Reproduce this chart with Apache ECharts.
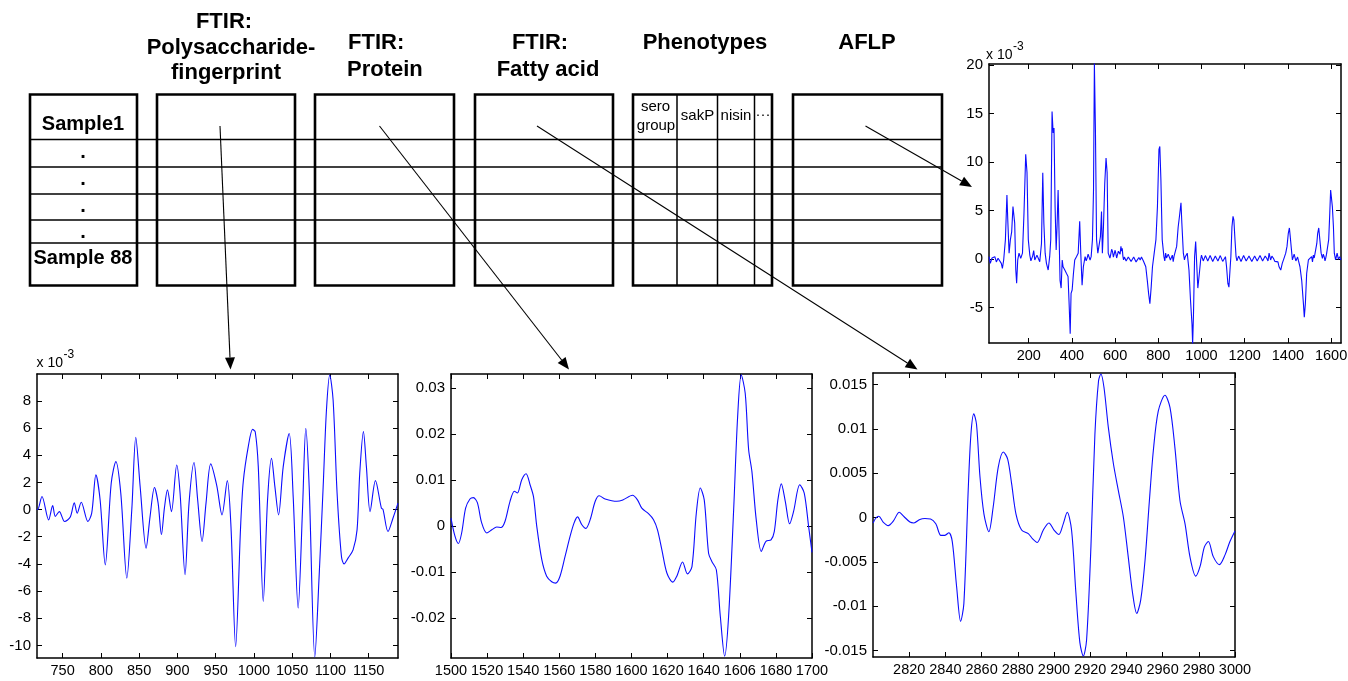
<!DOCTYPE html>
<html><head><meta charset="utf-8">
<script src="https://cdn.jsdelivr.net/npm/echarts@6/dist/echarts.min.js"></script>
<style>html,body{margin:0;padding:0;background:#fff}#c{width:1348px;height:681px}</style>
</head><body><div id="c"></div>
<script>
// ---------------- DATA ----------------
// AFLP spectrum (y in units of 1e-3)
const aflpData = [[16,0.24],[22,-0.45],[30,0.1],[35,-0.1],[43,0.24],[50,-0.3],[58,0.07],[66,0.24],[73,-0.45],[78,-0.97],[84,-0.1],[92,2],[99,6.6],[103,4],[109,0.6],[115,2],[121,2.8],[127,5.4],[130,5.5],[135,3.7],[140,-1.1],[144,-2.5],[149,-0.1],[155,0.6],[163,0.07],[171,0.6],[178,4.7],[186,10.8],[192,8.9],[198,2],[205,0.4],[210,-0.2],[214,-0.1],[218,0.3],[223,0.86],[228,-0.1],[233,-0.28],[238,0.4],[243,0.24],[251,-0.28],[259,1.6],[265,8.9],[270,3.7],[276,0.6],[282,-0.45],[290,-1.14],[297,0.24],[302,2],[308,15.2],[313,13],[317,13.5],[322,5.4],[327,0.93],[331,3.3],[336,7.1],[341,2],[345,-2.2],[350,-3.0],[355,-0.1],[359,-0.8],[367,-1.14],[375,-1.5],[382,-1.8],[387,-4.6],[392,-7.7],[396,-3.55],[401,-3.2],[407,-1.5],[413,-0.1],[421,0.24],[429,0.6],[436,3.9],[441,0.6],[447,-2.7],[453,-0.8],[461,0.24],[466,-0.2],[470,0.07],[475,0.5],[479,0.4],[484,-0.1],[489,0.24],[495,2],[500,7.1],[504,20.2],[509,13],[514,2],[520,0.6],[526,0.6],[532,2.3],[537,4.9],[541,0.6],[546,3.3],[552,7.8],[558,10.4],[563,8.9],[568,0.6],[572,0.76],[576,0.1],[579,0.4],[584,1.0],[588,0.76],[592,0.2],[596,0.24],[600,0.9],[603,0.6],[607,0.1],[611,0.24],[615,0.8],[619,0.93],[623,0.5],[627,1.3],[630,0.8],[633,1.1],[636,0.3],[639,-0.1],[643,0.2],[647,0.07],[651,-0.2],[656,-0.1],[661,0.2],[668,0.07],[674,-0.25],[681,-0.17],[686,0.2],[691,0.07],[697,-0.3],[704,-0.17],[710,0.15],[716,-0.1],[722,0.2],[727,0.07],[731,-0.2],[735,-0.28],[742,-0.8],[749,-2.2],[755,-3.55],[761,-4.6],[767,-2.9],[773,-0.8],[781,0.6],[789,2],[796,5.4],[803,11.3],[807,11.6],[812,8.2],[818,2],[826,0.24],[830,-0.2],[834,0.6],[838,0.1],[841,-0.1],[846,0.5],[851,0.4],[856,-0.1],[860,0.07],[865,0.4],[869,-0.28],[873,0.3],[877,0.24],[885,1.3],[892,3.3],[898,4.4],[905,5.8],[909,3.7],[916,0.6],[921,-0.1],[925,0.24],[930,0.3],[934,0.6],[942,-1.14],[949,-4.2],[956,-6.7],[959,-8.8],[963,-5.6],[968,0.24],[973,1.8],[977,-0.1],[983,-3.0],[990,-1.5],[996,-0.1],[1000,0.4],[1004,0.24],[1008,-0.2],[1013,-0.1],[1018,0.35],[1024,0.24],[1029,-0.2],[1034,-0.03],[1040,0.35],[1047,0.24],[1052,-0.25],[1058,-0.1],[1064,0.3],[1070,0.24],[1076,-0.2],[1082,-0.03],[1087,0.35],[1093,0.24],[1098,-0.25],[1104,-0.1],[1111,0.24],[1116,-0.8],[1122,-2.5],[1127,-2.9],[1132,-1.14],[1136,0.24],[1141,3.3],[1146,4.4],[1150,4.0],[1155,2],[1160,0.24],[1164,-0.2],[1167,-0.1],[1172,0.3],[1178,0.24],[1183,-0.25],[1189,-0.1],[1195,0.35],[1201,0.3],[1207,-0.2],[1214,-0.1],[1220,0.3],[1226,0.24],[1233,-0.25],[1240,-0.17],[1246,0.3],[1252,0.24],[1258,-0.2],[1265,-0.1],[1271,0.35],[1277,0.24],[1283,-0.2],[1289,-0.03],[1295,0.3],[1302,0.07],[1308,-0.2],[1313,0.6],[1320,-0.1],[1326,0.3],[1333,0.07],[1340,-0.25],[1348,-0.1],[1354,-0.3],[1359,-0.8],[1367,-1.14],[1374,-0.45],[1382,0.07],[1390,0.6],[1396,1.3],[1402,2.65],[1407,3.2],[1411,2.3],[1418,0.6],[1421,-0.1],[1425,0.07],[1429,0.5],[1433,0.4],[1437,-0.2],[1441,-0.1],[1445,0.2],[1449,-0.17],[1456,-0.8],[1464,-2.2],[1472,-4.6],[1476,-6.0],[1481,-4.6],[1487,-1.5],[1495,-0.1],[1503,-0.28],[1510,0.24],[1514,-0.3],[1518,0.4],[1522,0.1],[1526,0.6],[1534,1.6],[1538,2.65],[1543,3.2],[1548,2],[1554,0.6],[1560,0.07],[1564,0.5],[1568,0.24],[1572,-0.2],[1575,0.07],[1579,0.5],[1583,0.6],[1589,2],[1594,4.7],[1598,7.1],[1602,7.3],[1606,5.4],[1611,3.3],[1615,0.6],[1621,-0.1],[1628,0.6],[1634,-0.03],[1640,0.24],[1646,-0.1]];
const aflpXTicks = [200,400,600,800,1000,1200,1400,1600];
const aflpYTicks = [-5,0,5,10,15,20];

// FTIR polysaccharide fingerprint (y in units of 1e-3)
const polyData = [[716.5,0.05],[717.4,0],[723,0.96],[731.7,-0.76],[737,0.29],[740.4,-0.5],[745.7,-0.15],[752.6,-0.88],[760,-0.55],[765.2,0.5],[769,-0.27],[774.3,0.54],[783,-0.88],[788,-0.27],[793.5,2.55],[799,0.7],[805.7,-4.07],[813.5,1.94],[819.6,3.53],[826,1.2],[833.9,-5.05],[840.4,0],[845.6,5.32],[851.3,1.7],[859.1,-2.84],[864.3,-0.5],[870,1.62],[874.8,0.47],[879.1,-1.86],[883,0.1],[887,1.45],[892.2,-0.15],[899.1,3.28],[903.5,1.2],[910,-4.8],[915.2,0.47],[921.7,3.46],[926.5,0.7],[932.2,-2.35],[937.4,0.47],[943.5,3.36],[951.3,1.8],[958.3,-0.39],[965.2,2.13],[970,-1.25],[976.1,-10.1],[982.6,-1.25],[986.1,2.06],[992.6,4.63],[998.3,5.9],[1001.7,5.73],[1005.7,3.16],[1012.2,-6.76],[1017.8,0.7],[1023,3.77],[1027.4,1.69],[1032.2,-0.39],[1038.3,3.16],[1046.1,5.6],[1051.3,0.96],[1057.8,-7.25],[1063.5,0],[1067.8,5.98],[1072.2,1.69],[1079.6,-10.86],[1085.2,-4.93],[1090.5,1.69],[1094.8,7.33],[1099.1,9.9],[1103.5,8.06],[1108.7,1.2],[1114.4,-3.46],[1117.8,-4.0],[1123,-3.58],[1129.6,-2.97],[1134.8,-1.5],[1138.3,2.67],[1143.1,5.74],[1147,3.16],[1151.8,-0.15],[1158.8,2.13],[1166.6,0.1],[1168.7,0.02],[1175.2,-1.62],[1181.7,-0.64],[1188.3,0.47]];
const polyXTicks = [750,800,850,900,950,1000,1050,1100,1150];
const polyYTicks = [-10,-8,-6,-4,-2,0,2,4,6,8];

// FTIR protein region
const protData = [[1500,0.00174],[1502.2,-0.0022],[1504.1,-0.0038],[1505.9,-0.0015],[1508.1,0.0039],[1510.5,0.0059],[1512.4,0.0062],[1514.6,0.0051],[1517,0.0007],[1519.8,-0.0015],[1522.6,-0.0008],[1525.3,-0.0002],[1527.7,-0.0003],[1529.9,0.001],[1532.7,0.0054],[1535.1,0.0076],[1536.8,0.0072],[1539.2,0.0101],[1541.6,0.0114],[1543.8,0.009],[1545.7,0.0064],[1547.5,0],[1550.3,-0.0073],[1553,-0.0109],[1555.8,-0.0121],[1558,-0.0124],[1560.4,-0.0109],[1563.2,-0.0066],[1566,-0.0022],[1568.2,0.0007],[1570.1,0.002],[1572.5,0.0003],[1574.7,-0.0005],[1577.1,0.0014],[1579.9,0.0054],[1582.1,0.0066],[1585.4,0.0059],[1591.9,0.0054],[1595.2,0.0057],[1600.6,0.0067],[1603.3,0.0057],[1605.7,0.0039],[1609.4,0.0027],[1612.2,0.0014],[1614.4,-0.0008],[1616.8,-0.0051],[1619.6,-0.0102],[1622.9,-0.0122],[1625.1,-0.0109],[1628.3,-0.0078],[1631,-0.0104],[1633.5,-0.0088],[1635.9,0.0028],[1638.1,0.0083],[1640.3,0.0057],[1642.7,-0.0059],[1644.5,-0.0077],[1647,-0.0095],[1649.2,-0.0196],[1651.6,-0.0283],[1653.8,-0.0196],[1656.6,0.0036],[1658.8,0.0238],[1660.8,0.0329],[1663,0.0289],[1664.9,0.0166],[1666.7,0.0119],[1669.1,0.0014],[1671.9,-0.0055],[1674.5,-0.0033],[1677.3,-0.003],[1679.1,-0.0012],[1681.1,0.0057],[1683,0.0092],[1685.2,0.0054],[1687.6,0.0005],[1689.8,0.0032],[1693.2,0.009],[1695.7,0.0072],[1698.1,0],[1700,-0.0057]];
const protXTicks = [1500,1520,1540,1560,1580,1600,1620,1640,1660,1680,1700];
const protXLabels = ['1500','1520','1540','1560','1580','1600','1620','1640','1606','1680','1700'];
const protYTicks = [-0.02,-0.01,0,0.01,0.02,0.03];
const protYLabels = ['-0.02','-0.01','0','0.01','0.02','0.03'];

// FTIR fatty acid region
const fatData = [[2800.1,-0.0006],[2801.4,-0.0001],[2803.2,0.00015],[2805.6,-0.0005],[2808.4,-0.0009],[2811.2,-0.0004],[2814.5,0.0006],[2817.2,0.0001],[2820.4,-0.0005],[2822.6,-0.0006],[2825.9,-0.0002],[2828.7,-0.0001],[2831.8,-0.00015],[2834.7,-0.0007],[2837.5,-0.002],[2839.7,-0.002],[2841.9,-0.0017],[2843.8,-0.0027],[2846.2,-0.0078],[2848.4,-0.0117],[2850.2,-0.0097],[2852.6,0.0031],[2854.1,0.0094],[2855.7,0.0117],[2857.2,0.0105],[2859.1,0.0046],[2861.3,0.0004],[2864,-0.0016],[2866.4,0.0012],[2869.2,0.0057],[2872,0.0074],[2874.4,0.0066],[2876.6,0.0038],[2879,0.0004],[2882.1,-0.0014],[2885.8,-0.0018],[2888.2,-0.0024],[2890.7,-0.0028],[2894.1,-0.0014],[2897.2,-0.0006],[2900,-0.0014],[2902.7,-0.0019],[2905.1,-0.0007],[2907.3,0.0006],[2909.7,-0.0014],[2912.1,-0.0085],[2914.3,-0.0141],[2916.2,-0.0156],[2918,-0.0138],[2920.4,-0.0033],[2922.6,0.0094],[2924.6,0.0154],[2925.9,0.0162],[2927.6,0.0147],[2930,0.0102],[2932.8,0.0061],[2935.5,0.0031],[2938.3,0.0001],[2941,-0.0044],[2943.4,-0.0085],[2945.7,-0.0108],[2947.9,-0.0093],[2950.3,-0.0048],[2952.7,0.0019],[2954.9,0.0076],[2957.6,0.012],[2961.3,0.0138],[2964.1,0.0124],[2966.8,0.0079],[2969.6,0.0019],[2972.4,-0.0007],[2975.1,-0.0044],[2978.3,-0.0066],[2980.7,-0.0055],[2983.1,-0.0033],[2985.3,-0.0027],[2988,-0.0044],[2991.4,-0.0053],[2994.5,-0.0042],[2997.2,-0.0027],[3000,-0.0015]];
const fatXTicks = [2820,2840,2860,2880,2900,2920,2940,2960,2980,3000];
const fatYTicks = [-0.015,-0.01,-0.005,0,0.005,0.01,0.015];
const fatYLabels = ['-0.015','-0.01','-0.005','0','0.005','0.01','0.015'];

// diagram texts
const sampleLabels = ['Sample1', '.', '.', '.', '.', 'Sample 88'];
const phenoCols = ['sero\ngroup', 'sakP', 'nisin', '\u00b7\u00b7\u00b7'];

// ---------------- CHART ----------------
const FF = '"Liberation Sans", Arial, Helvetica, sans-serif';
const chart = echarts.init(document.getElementById('c'), null, {renderer: 'canvas'});

const grids = [
  {left: 989, top: 64, width: 352, height: 279},   // AFLP
  {left: 37, top: 374, width: 361, height: 284},   // polysaccharide
  {left: 451, top: 374, width: 361, height: 284},  // protein
  {left: 873, top: 373, width: 362, height: 284}   // fatty acid
].map(g => Object.assign({outerBoundsMode: 'none', containLabel: false, show: false}, g));

function labelFmt(ticks, labels) {
  return function (v) {
    let best = 0, d = Infinity;
    ticks.forEach((t, i) => { const dd = Math.abs(t - v); if (dd < d) { d = dd; best = i; } });
    return labels ? labels[best] : String(ticks[best]);
  };
}

const xAxes = [], yAxes = [];
function addAxes(gi, xmin, xmax, xt, xl, ymin, ymax, yt, yl) {
  const line = {show: true, onZero: false, lineStyle: {color: '#000', width: 1.5}};
  ['bottom', 'top'].forEach(pos => {
    xAxes.push({
      type: 'value', gridIndex: gi, position: pos, min: xmin, max: xmax,
      axisLine: line,
      axisTick: {show: true, inside: true, length: 5, customValues: xt, lineStyle: {color: '#000', width: 1}},
      axisLabel: {show: pos === 'bottom', customValues: xt, formatter: labelFmt(xt, xl), margin: 5,
        fontSize: 14.5, color: '#000', fontFamily: FF},
      splitLine: {show: false}
    });
  });
  ['left', 'right'].forEach(pos => {
    yAxes.push({
      type: 'value', gridIndex: gi, position: pos, min: ymin, max: ymax,
      axisLine: line,
      axisTick: {show: true, inside: true, length: 5, customValues: yt, lineStyle: {color: '#000', width: 1}},
      axisLabel: {show: pos === 'left', customValues: yt, formatter: labelFmt(yt, yl), margin: 6,
        fontSize: 15, color: '#000', fontFamily: FF},
      splitLine: {show: false}
    });
  });
}
addAxes(0, 16, 1646, aflpXTicks, null, -8.66, 20.1, aflpYTicks, null);
addAxes(1, 716.5, 1188.3, polyXTicks, null, -10.93, 9.98, polyYTicks, null);
addAxes(2, 1500, 1700, protXTicks, protXLabels, -0.0287, 0.0331, protYTicks, protYLabels);
addAxes(3, 2800, 3000, fatXTicks, null, -0.01572, 0.01631, fatYTicks, fatYLabels);

const lineStyle = {color: '#0c0cff', width: 1.1};
const series = [
  {type: 'line', xAxisIndex: 0, yAxisIndex: 0, data: aflpData, showSymbol: false, smooth: false, lineStyle, clip: true},
  {type: 'line', xAxisIndex: 2, yAxisIndex: 2, data: polyData, showSymbol: false, smooth: 0.3, lineStyle, clip: true},
  {type: 'line', xAxisIndex: 4, yAxisIndex: 4, data: protData, showSymbol: false, smooth: 0.3, lineStyle, clip: true},
  {type: 'line', xAxisIndex: 6, yAxisIndex: 6, data: fatData, showSymbol: false, smooth: 0.3, lineStyle, clip: true}
];

// ---- diagram (graphic) ----
const G = [];
const boxes = [[30,137],[157,295],[315,454],[475,613],[633,772],[793,942]];
const boxTop = 94.5, boxBot = 285.5;
const rowY = [139.5, 167, 194, 220, 243];
rowY.forEach(y => G.push({type: 'line', shape: {x1: 30, y1: y, x2: 942, y2: y}, style: {stroke: '#000', lineWidth: 1.5}}));
[677, 717.5, 754.5].forEach(x => G.push({type: 'line', shape: {x1: x, y1: boxTop, x2: x, y2: boxBot}, style: {stroke: '#000', lineWidth: 1.5}}));
boxes.forEach(b => G.push({type: 'rect', shape: {x: b[0], y: boxTop, width: b[1] - b[0], height: boxBot - boxTop},
  style: {fill: 'none', stroke: '#000', lineWidth: 2.6}}));

function txt(t, x, y, size, bold, align) {
  G.push({type: 'text', style: {text: t, x: x, y: y, fill: '#000',
    font: (bold ? 'bold ' : '') + size + 'px ' + FF, textAlign: align || 'center', textVerticalAlign: 'middle'}});
}
// headers
txt('FTIR:', 224, 22, 22, true);
txt('Polysaccharide-', 231, 48, 22, true);
txt('fingerprint', 226, 73, 22, true);
txt('FTIR:', 348, 43, 22, true, 'left');
txt('Protein', 347, 70, 22, true, 'left');
txt('FTIR:', 540, 43, 22, true);
txt('Fatty acid', 548, 70, 22, true);
txt('Phenotypes', 705, 43, 22, true);
txt('AFLP', 867, 43, 22, true);
// sample labels
const sampleY = [124, 152, 179.5, 206, 232.5, 258];
sampleLabels.forEach((s, i) => txt(s, 83, sampleY[i], 20, true));
// phenotype column labels
txt('sero', 655.5, 107, 15, false);
txt('group', 656, 126, 15, false);
txt(phenoCols[1], 697.5, 116, 15, false);
txt(phenoCols[2], 736, 116, 15, false);
txt(phenoCols[3], 763, 115, 15, false);

function arrow(x1, y1, x2, y2) {
  const dx = x2 - x1, dy = y2 - y1, L = Math.sqrt(dx * dx + dy * dy);
  const ux = dx / L, uy = dy / L, hl = 12, hw = 5;
  const bx = x2 - ux * hl, by = y2 - uy * hl;
  G.push({type: 'line', shape: {x1: x1, y1: y1, x2: bx, y2: by}, style: {stroke: '#000', lineWidth: 1.1}});
  G.push({type: 'polygon', shape: {points: [[x2, y2], [bx - uy * hw, by + ux * hw], [bx + uy * hw, by - ux * hw]]},
    style: {fill: '#000'}});
}
arrow(220, 126, 230.5, 369.5);
arrow(379.5, 126, 569, 369.5);
arrow(537, 126, 917.5, 369.5);
arrow(865.5, 126, 972, 187);

// exponent labels
function expo(x, y) {
  G.push({type: 'text', style: {text: 'x 10', x: x, y: y, fill: '#000', font: '14px ' + FF, textAlign: 'left', textVerticalAlign: 'middle'}});
  G.push({type: 'text', style: {text: '-3', x: x + 27, y: y - 8, fill: '#000', font: '12px ' + FF, textAlign: 'left', textVerticalAlign: 'middle'}});
}
expo(36.5, 363);
expo(986, 55);

chart.setOption({
  animation: false,
  backgroundColor: '#fff',
  grid: grids,
  xAxis: xAxes,
  yAxis: yAxes,
  series: series,
  graphic: {elements: G}
});
</script></body></html>
